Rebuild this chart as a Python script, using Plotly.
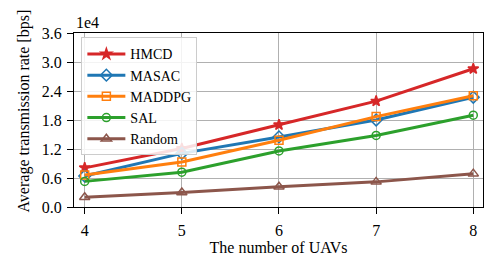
import plotly.graph_objects as go

x_uavs = [4, 5, 6, 7, 8]
hmcd = [0.81, 1.21, 1.70, 2.19, 2.86]
masac = [0.64, 1.11, 1.45, 1.80, 2.27]
maddpg = [0.66, 0.93, 1.38, 1.87, 2.30]
sal = [0.53, 0.72, 1.16, 1.48, 1.90]
rand = [0.20, 0.30, 0.42, 0.52, 0.69]
y_ticks = [0.0, 0.6, 1.2, 1.8, 2.4, 3.0, 3.6]

series = [
    ("HMCD", hmcd, "#d62728", "star", 8),
    ("MASAC", masac, "#1f77b4", "diamond-open", 9),
    ("MADDPG", maddpg, "#ff7f0e", "square-open", 8),
    ("SAL", sal, "#2ca02c", "circle-open", 8),
    ("Random", rand, "#8c564b", "triangle-up-open", 9),
]

fig = go.Figure()
for name, ys, col, sym, sz in series:
    fig.add_trace(go.Scatter(
        x=x_uavs, y=ys, name=name, mode="lines+markers",
        line=dict(color=col, width=3),
        marker=dict(symbol=sym, size=sz, color=col, line=dict(color=col, width=1.5)),
    ))

font = "Liberation Serif"
fig.update_layout(
    width=490, height=268,
    margin=dict(l=66, r=15, t=25, b=69, autoexpand=False),
    paper_bgcolor="white", plot_bgcolor="white",
    font=dict(family=font, size=16, color="black"),
    showlegend=True,
    legend=dict(x=0.018, y=0.975, xanchor="left", yanchor="top",
                bgcolor="rgba(255,255,255,0.85)", bordercolor="#cccccc", borderwidth=1,
                font=dict(family=font, size=14), tracegroupgap=0, itemwidth=38),
    xaxis=dict(range=[3.89, 8.1], tickvals=x_uavs, showgrid=True, gridcolor="#b0b0b0", gridwidth=1,
               showline=True, linecolor="black", linewidth=1.2, mirror=True, automargin=False,
               ticks="outside", ticklen=6, tickcolor="black", zeroline=False, ticklabelstandoff=3,
               title=dict(text="The number of UAVs", font=dict(size=16), standoff=3)),
    yaxis=dict(range=[0, 3.6], tickvals=y_ticks, ticktext=[f"{v:.1f}" for v in y_ticks],
               showgrid=True, gridcolor="#b0b0b0", gridwidth=1, automargin=False,
               showline=True, linecolor="black", linewidth=1.2, mirror=True, ticklabelstandoff=2,
               ticks="outside", ticklen=6, tickcolor="black", zeroline=False),
    annotations=[
        dict(text="1e4", xref="paper", yref="paper", x=0, y=1.0, xanchor="left",
             yanchor="bottom", showarrow=False, font=dict(family=font, size=16)),
        dict(text="Average transmission rate [bps]", xref="paper", yref="paper", x=-0.1222, y=0.549,
             xanchor="center", yanchor="middle", textangle=-90, showarrow=False,
             font=dict(family=font, size=16)),
    ],
)
fig.write_html("out.html")
